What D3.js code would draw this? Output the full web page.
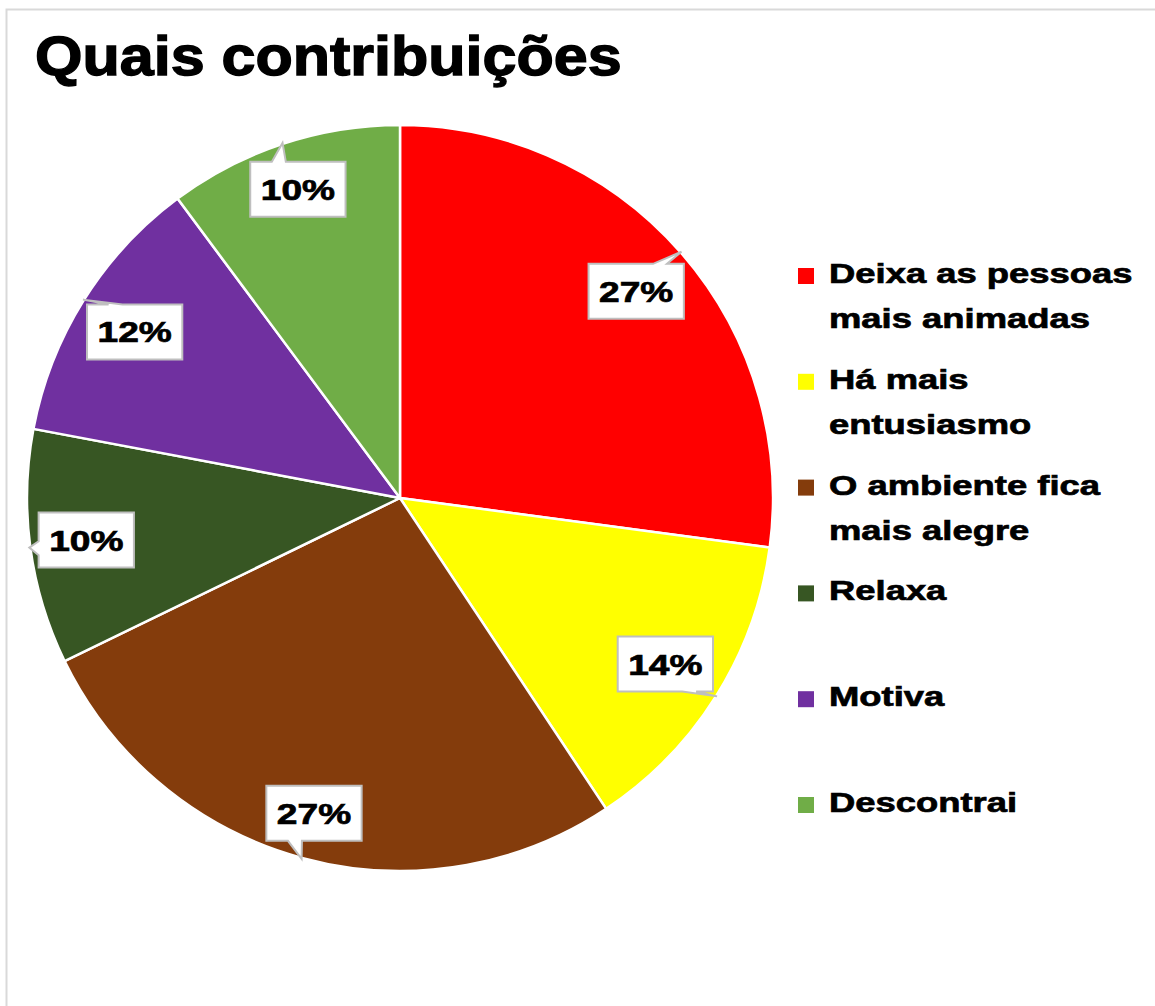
<!DOCTYPE html>
<html>
<head>
<meta charset="utf-8">
<script src="https://cdn.jsdelivr.net/npm/d3@7"></script>
<style>
  body { margin: 0; background: #fff; }
  text { font-family: "Liberation Sans", Arial, sans-serif; font-weight: bold; stroke: #000; stroke-width: 0.7px; }
</style>
</head>
<body>
<svg id="chart"></svg>
<script>
// data (counts, shown as percentages)
const categories = [
    "Deixa as pessoas mais animadas",
    "Há mais entusiasmo",
    "O ambiente fica mais alegre",
    "Relaxa",
    "Motiva",
    "Descontrai"
];
const values = [16, 8, 16, 6, 7, 6];
const colors = ["#ff0000", "#ffff00", "#843c0c", "#375623", "#7030a0", "#70ad47"];
const title = "Quais contribuições";

const width = 1155, height = 1006;
const cx = 400, cy = 498, radius = 373;
const stretch = 1.28; // text in the picture is drawn wider than normal

const svg = d3.select("#chart")
    .attr("width", width)
    .attr("height", height);

// chart area border
svg.append("rect")
    .attr("x", 6.5).attr("y", 9.5)
    .attr("width", width + 20).attr("height", height + 20)
    .attr("fill", "#fff")
    .attr("stroke", "#d9d9d9")
    .attr("stroke-width", 2);

svg.append("text")
    .attr("transform", "translate(35,75) scale(1.09,1)")
    .style("font-size", "56px")
    .style("stroke-width", "1.4px")
    .attr("fill", "#000")
    .text(title);

const total = d3.sum(values);
const pct = d3.format(".0%");

const pie = d3.pie().sort(null).value(d => d);
const arcs = pie(values);
const arc = d3.arc().innerRadius(0).outerRadius(radius);

const g = svg.append("g").attr("transform", `translate(${cx},${cy})`);

g.selectAll("path.slice")
    .data(arcs)
    .enter()
    .append("path")
    .attr("class", "slice")
    .attr("d", arc)
    .attr("fill", (d, i) => colors[i])
    .attr("stroke", "#fff")
    .attr("stroke-width", 2.5)
    .attr("stroke-linejoin", "round");

// callout labels
const boxH = 55, pad = 10.5, tipHalf = 7;
const labels = g.selectAll("g.callout")
    .data(arcs)
    .enter()
    .append("g")
    .attr("class", "callout");

labels.each(function (d) {
    const sel = d3.select(this);
    const mid = (d.startAngle + d.endAngle) / 2;
    const ux = Math.sin(mid), uy = -Math.cos(mid);

    const txt = sel.append("text")
        .style("font-size", "29px")
        .attr("text-anchor", "middle")
        .attr("fill", "#000")
        .text(pct(d.value / total));
    const tw = txt.node().getComputedTextLength() * stretch;
    const w = tw + pad * 2, h = boxH;

    // push the box outward until its corners touch the rim
    const fits = (dist) => {
        const bx = ux * dist, by = uy * dist;
        return [[-1, -1], [1, -1], [1, 1], [-1, 1]].every(([sx, sy]) => {
            const px = bx + sx * w / 2, py = by + sy * h / 2;
            return Math.hypot(px, py) <= radius - 5;
        });
    };
    let lo = 0, hi = radius;
    for (let k = 0; k < 40; k++) {
        const m = (lo + hi) / 2;
        if (fits(m)) lo = m; else hi = m;
    }
    const bx = ux * lo, by = uy * lo;
    const x0 = bx - w / 2, x1 = bx + w / 2, y0 = by - h / 2, y1 = by + h / 2;
    const tx = ux * (radius + 1), ty = uy * (radius + 1);
    const dx = tx - bx, dy = ty - by;

    let p;
    if (Math.abs(dx) * h > Math.abs(dy) * w) {
        const yc = y0 + h * (dy > 0 ? 0.65 : 0.35);
        if (dx < 0) {
            p = [[x0, y0], [x1, y0], [x1, y1], [x0, y1], [x0, yc + tipHalf], [tx, ty], [x0, yc - tipHalf]];
        } else {
            p = [[x0, y0], [x1, y0], [x1, yc - tipHalf], [tx, ty], [x1, yc + tipHalf], [x1, y1], [x0, y1]];
        }
    } else {
        const xc = x0 + w * (dx > 0 ? 0.75 : 0.3);
        if (dy < 0) {
            p = [[x0, y0], [xc - tipHalf, y0], [tx, ty], [xc + tipHalf, y0], [x1, y0], [x1, y1], [x0, y1]];
        } else {
            p = [[x0, y0], [x1, y0], [x1, y1], [xc + tipHalf, y1], [tx, ty], [xc - tipHalf, y1], [x0, y1]];
        }
    }

    sel.insert("path", "text")
        .attr("d", d3.line()(p) + "Z")
        .attr("fill", "#fff")
        .attr("stroke", "#bfbfbf")
        .attr("stroke-width", 2)
        .attr("stroke-linejoin", "miter");

    txt.attr("transform", `translate(${bx},${by + 10.5}) scale(${stretch},1)`);
});

// legend
const legend = svg.append("g").attr("transform", "translate(798,283)");
const entryStep = 105.8, lineStep = 45, wrapWidth = 315;

const entries = legend.selectAll("g.entry")
    .data(categories)
    .enter()
    .append("g")
    .attr("class", "entry")
    .attr("transform", (d, i) => `translate(0,${i * entryStep})`);

entries.append("rect")
    .attr("x", 0).attr("y", -15)
    .attr("width", 16).attr("height", 16)
    .attr("fill", (d, i) => colors[i]);

entries.each(function (d) {
    const sel = d3.select(this);
    const words = d.split(" ");
    const lines = [];
    let cur = [];
    const probe = sel.append("text").style("font-size", "28px");
    words.forEach(wd => {
        const test = cur.concat(wd).join(" ");
        probe.text(test);
        if (probe.node().getComputedTextLength() * 1.3 > wrapWidth && cur.length) {
            lines.push(cur.join(" "));
            cur = [wd];
        } else {
            cur.push(wd);
        }
    });
    lines.push(cur.join(" "));
    probe.remove();

    lines.forEach((ln, j) => {
        sel.append("text")
            .style("font-size", "28px")
            .attr("fill", "#000")
            .attr("transform", `translate(31,${j * lineStep}) scale(1.3,1)`)
            .text(ln);
    });
});
</script>
</body>
</html>
